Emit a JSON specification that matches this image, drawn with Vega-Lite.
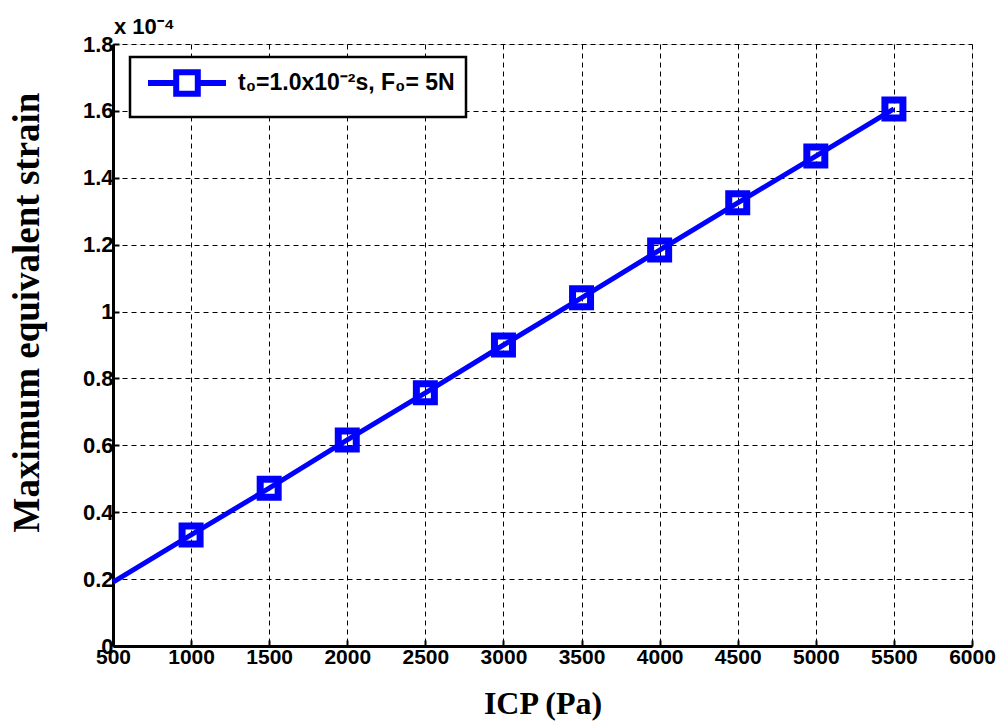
{
  "$schema": "https://vega.github.io/schema/vega-lite/v6.json",
  "width": 859,
  "height": 602,
  "autosize": {"type": "none"},
  "padding": {"left": 113, "top": 44, "right": 30, "bottom": 75},
  "background": "white",
  "title": {"text": "x 10⁻⁴", "anchor": "start", "frame": "group", "offset": -6, "fontSize": 22, "font": "Liberation Sans", "fontWeight": "bold", "color": "black", "dx": 1},
  "data": {"values": [
    {"icp": 500, "strain": 0.0000191, "marker": false, "series": "s1"},
    {"icp": 1000, "strain": 0.0000332, "marker": true, "series": "s1"},
    {"icp": 1500, "strain": 0.0000472, "marker": true, "series": "s1"},
    {"icp": 2000, "strain": 0.0000616, "marker": true, "series": "s1"},
    {"icp": 2500, "strain": 0.0000757, "marker": true, "series": "s1"},
    {"icp": 3000, "strain": 0.0000900, "marker": true, "series": "s1"},
    {"icp": 3500, "strain": 0.0001041, "marker": true, "series": "s1"},
    {"icp": 4000, "strain": 0.0001184, "marker": true, "series": "s1"},
    {"icp": 4500, "strain": 0.0001325, "marker": true, "series": "s1"},
    {"icp": 5000, "strain": 0.0001465, "marker": true, "series": "s1"},
    {"icp": 5500, "strain": 0.0001606, "marker": true, "series": "s1"}
  ]},
  "encoding": {
    "x": {"field": "icp", "type": "quantitative",
      "scale": {"domain": [500, 6000], "nice": false, "zero": false},
      "axis": {"values": [500,1000,1500,2000,2500,3000,3500,4000,4500,5000,5500,6000], "format": "d",
        "title": "ICP (Pa)", "titleFont": "Liberation Serif", "titleFontSize": 32, "titleFontWeight": "bold", "titleColor": "black", "titleY": 57, "titleBaseline": "middle",
        "labelFont": "Liberation Sans", "labelFontSize": 21, "labelFontWeight": "bold", "labelColor": "black", "labelPadding": 6, "labelFlush": false,
        "domainColor": "black", "domainWidth": 3, "tickColor": "black", "tickSize": -6, "tickWidth": 2,
        "grid": true, "gridColor": "black", "gridDash": [5, 4], "gridWidth": 1, "gridOpacity": 1}},
    "y": {"field": "strain", "type": "quantitative",
      "scale": {"domain": [0, 0.00018], "nice": false},
      "axis": {"values": [0, 0.00002, 0.00004, 0.00006, 0.00008, 0.0001, 0.00012, 0.00014, 0.00016, 0.00018],
        "labelExpr": "format(datum.value*10000, '.1~f')",
        "title": "Maximum equivalent strain", "titleFont": "Liberation Serif", "titleFontSize": 37, "titleFontWeight": "bold", "titleColor": "black",
        "titleX": -86, "titleY": 268, "titleAngle": 270, "titleAlign": "center", "titleBaseline": "middle",
        "labelFont": "Liberation Sans", "labelFontSize": 22, "labelFontWeight": "bold", "labelColor": "black", "labelPadding": 6, "labelFlush": false,
        "domainColor": "black", "domainWidth": 3, "tickColor": "black", "tickSize": -6, "tickWidth": 2,
        "grid": true, "gridColor": "black", "gridDash": [5, 4], "gridWidth": 1, "gridOpacity": 1}},
    "color": {"field": "series", "type": "nominal", "scale": {"range": ["#0000ff"]},
      "legend": {"title": null, "orient": "none", "legendX": 17, "legendY": 13,
        "labelExpr": "'t₀=1.0x10⁻²s, F₀= 5N'",
        "symbolType": "M-3.25,0H-0.9M0.9,0H3.25M-0.9,-0.9H0.9V0.9H-0.9Z", "symbolSize": 576, "symbolStrokeWidth": 6, "symbolFillColor": "transparent", "symbolStrokeColor": "#0000ff",
        "labelFont": "Liberation Sans", "labelFontSize": 23, "labelFontWeight": "bold", "labelColor": "black", "labelOffset": 36, "labelLimit": 600,
        "strokeColor": "black", "fillColor": "white", "padding": 11, "symbolOffset": 31,
        "encode": {"legend": {"update": {"strokeWidth": {"value": 2.5}}}}}}
  },
  "layer": [
    {"mark": {"type": "line", "strokeWidth": 5, "color": "#0000ff"}},
    {"transform": [{"filter": "datum.marker"}],
     "mark": {"type": "point", "shape": "square", "filled": false, "size": 324, "strokeWidth": 7, "opacity": 1, "color": "#0000ff"}}
  ]
}
